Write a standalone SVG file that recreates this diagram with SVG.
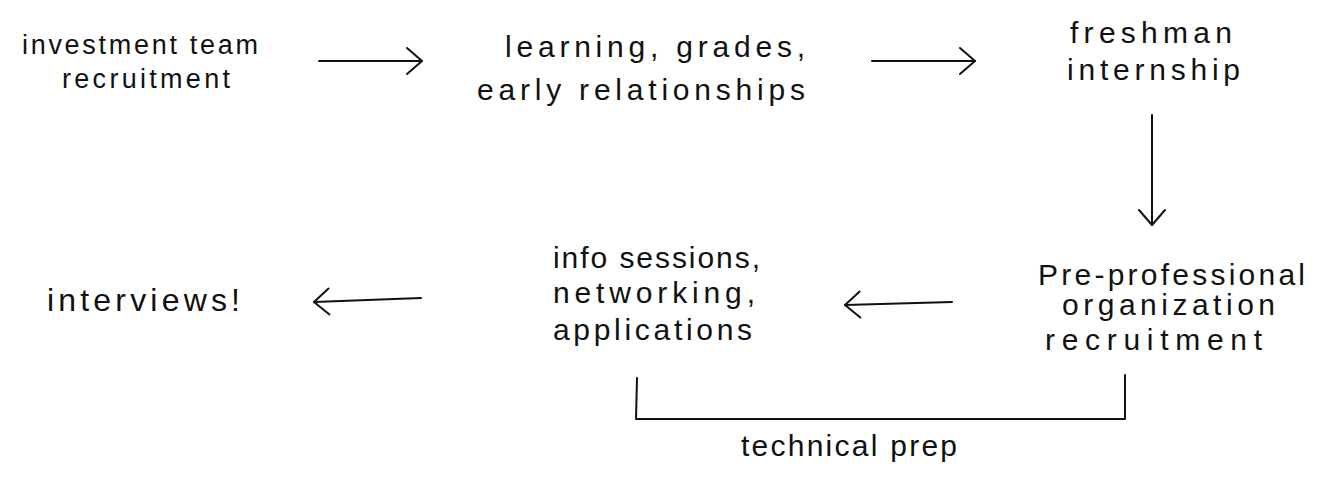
<svg xmlns="http://www.w3.org/2000/svg" width="1333" height="495" viewBox="0 0 1333 495">
<style>
text{font-family:"Liberation Sans",Arial,sans-serif;font-size:30px;fill:#111;}
.s{font-size:27px;}
.c{fill:none;stroke:#111;stroke-width:2;stroke-linecap:round;stroke-linejoin:round;}
</style>
<defs>
<marker id="ah" viewBox="0 0 20 30" refX="18" refY="15" markerWidth="20" markerHeight="30" markerUnits="userSpaceOnUse" orient="auto">
<path d="M3,2 L18,15 L3,28" fill="none" stroke="#111" stroke-width="2" stroke-linecap="round" stroke-linejoin="round"/>
</marker>
</defs>
<rect width="1333" height="495" fill="#fff"/>
<g id="connectors">
<line class="c" x1="319" y1="61" x2="422" y2="61" marker-end="url(#ah)"/>
<line class="c" x1="872" y1="61" x2="975" y2="61" marker-end="url(#ah)"/>
<line class="c" x1="1152" y1="115" x2="1152" y2="225" marker-end="url(#ah)"/>
<line class="c" x1="952" y1="302" x2="845" y2="305" marker-end="url(#ah)"/>
<line class="c" x1="421" y1="298" x2="314" y2="302" marker-end="url(#ah)"/>
<path id="bracket" class="c" d="M637,378 L636,419 L1125,419 L1125,375"/>
</g>
<g id="node-investment">
<text class="s" x="22" y="54" textLength="236" lengthAdjust="spacing">investment team</text>
<text class="s" x="62" y="88" textLength="168" lengthAdjust="spacing">recruitment</text>
</g>
<g id="node-learning">
<text x="505" y="57" textLength="300" lengthAdjust="spacing">learning, grades,</text>
<text x="477" y="100" textLength="328" lengthAdjust="spacing">early relationships</text>
</g>
<g id="node-freshman">
<text x="1070" y="43" textLength="162" lengthAdjust="spacing">freshman</text>
<text x="1067" y="80" textLength="173" lengthAdjust="spacing">internship</text>
</g>
<g id="node-preprof">
<text x="1038" y="285" textLength="267" lengthAdjust="spacing">Pre-professional</text>
<text x="1062" y="315" textLength="213" lengthAdjust="spacing">organization</text>
<text x="1045" y="350" textLength="217" lengthAdjust="spacing">recruitment</text>
</g>
<g id="node-info">
<text x="553" y="268" textLength="207" lengthAdjust="spacing">info sessions,</text>
<text x="553" y="303" textLength="202" lengthAdjust="spacing">networking,</text>
<text x="553" y="340" textLength="199" lengthAdjust="spacing">applications</text>
</g>
<g id="node-interviews">
<text x="47" y="311" textLength="193" lengthAdjust="spacing" style="font-size:32px">interviews!</text>
</g>
<g id="label-technical">
<text x="741" y="456" textLength="216" lengthAdjust="spacing">technical prep</text>
</g>
</svg>
